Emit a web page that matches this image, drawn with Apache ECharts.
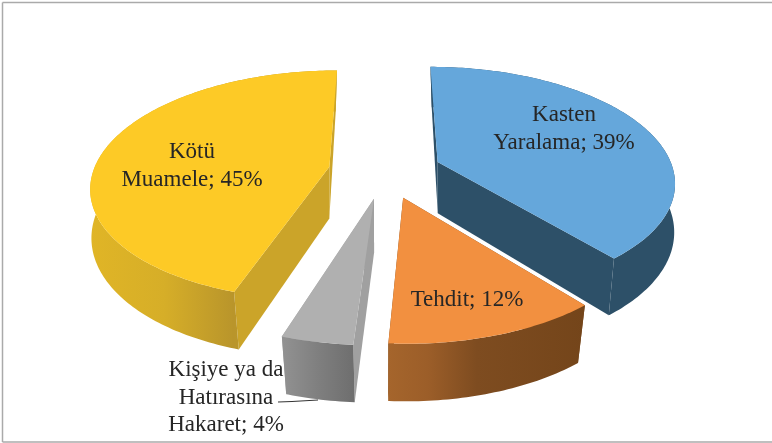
<!DOCTYPE html>
<html>
<head>
<meta charset="utf-8">
<style>
  html, body { margin: 0; padding: 0; background: #fff; }
  #main { width: 772px; height: 443px; }
</style>
<script src="https://cdn.jsdelivr.net/npm/echarts@6/dist/echarts.min.js"></script>
</head>
<body>
<div id="main"></div>
<script>
// chart values, clockwise from the top of the pie
var categories = ["Kasten Yaralama", "Tehdit", "Kişiye ya da Hatırasına Hakaret", "Kötü Muamele"];
var values = [39, 12, 4, 45];
var labelLines = [
  ["Kasten", "Yaralama; 39%"],
  ["Tehdit; 12%"],
  ["Kişiye ya da", "Hatırasına", "Hakaret; 4%"],
  ["Kötü", "Muamele; 45%"]
];

// look of each slice
var topColors = ["#65a7db", "#f29040", "#b0b0b0", "#fdca26"];
var cutColors = ["#2d5068", "#7a4a1e", "#a0a0a0", "#cba429"];
var wallColors = [
  [[0, "#2d5068"], [1, "#2d5068"]],
  [[0, "#a5652c"], [0.2, "#9c5e29"], [0.45, "#7e4c20"], [1, "#74451a"]],
  [[0, "#929292"], [0.5, "#7f7f7f"], [1, "#6e6e6e"]],
  [[0, "#e0b526"], [0.3, "#d6ae28"], [0.58, "#b9952b"], [1, "#cba429"]]
];
// text anchors (centre of the first line)
var labelSpots = [[564, 114.5], [467, 299.5], [226, 370], [192, 151.5]];
var lineGap = [28, 28, 27.5, 28];

// perspective of the disk, top face and bottom face
var view = { cx: 385, cy: 171, rx: 236, ry: 113, p: 0.16, cyLow: 223, rxLow: 236, ryLow: 122, pLow: 0.13, explode: 0.24 };

var total = values.reduce(function (a, b) { return a + b; }, 0);

function project(u, v, low) {
  var s = 1 / (1 - (low ? view.pLow : view.p) * v);
  return [
    view.cx + (low ? view.rxLow : view.rx) * u * s,
    (low ? view.cyLow : view.cy) + (low ? view.ryLow : view.ry) * v * s
  ];
}

function onDisk(deg, off) {
  var a = deg * Math.PI / 180;
  return [Math.sin(a) + off[0], -Math.cos(a) + off[1]];
}

function renderSlice(params, api) {
  var i = params.dataIndex;
  var before = 0;
  for (var k = 0; k < i; k++) before += values[k];
  var from = before / total * 360;
  var to = (before + api.value(0)) / total * 360;
  var mid = (from + to) / 2 * Math.PI / 180;
  var off = [view.explode * Math.sin(mid), -view.explode * Math.cos(mid)];

  var arcTop = [], arcLow = [];
  for (var d = from; d < to; d += 1) {
    var q = onDisk(d, off);
    arcTop.push(project(q[0], q[1], false));
    arcLow.push(project(q[0], q[1], true));
  }
  var e = onDisk(to, off);
  arcTop.push(project(e[0], e[1], false));
  arcLow.push(project(e[0], e[1], true));

  var apexTop = project(off[0], off[1], false);
  var apexLow = project(off[0], off[1], true);
  var last = arcTop.length - 1;

  var children = [
    { type: "polygon", shape: { points: [apexTop, arcTop[0], arcLow[0], apexLow] }, style: { fill: cutColors[i] } },
    { type: "polygon", shape: { points: [apexTop, arcTop[last], arcLow[last], apexLow] }, style: { fill: cutColors[i] } },
    {
      type: "polygon",
      shape: { points: arcTop.concat(arcLow.slice().reverse()) },
      style: {
        fill: new echarts.graphic.LinearGradient(0, 0, 1, 0, wallColors[i].map(function (s) {
          return { offset: s[0], color: s[1] };
        }))
      }
    },
    { type: "polygon", shape: { points: [apexTop].concat(arcTop) }, style: { fill: topColors[i] } }
  ];

  labelLines[i].forEach(function (txt, n) {
    children.push({
      type: "text",
      style: {
        text: txt,
        x: labelSpots[i][0],
        y: labelSpots[i][1] + n * lineGap[i],
        align: "center",
        verticalAlign: "middle",
        font: '23px "Liberation Serif"',
        fill: "#262626"
      }
    });
  });
  return { type: "group", children: children };
}

var myChart = echarts.init(document.getElementById("main"), null, { renderer: "canvas" });
var option = {
  backgroundColor: "#ffffff",
  animation: false,
  graphic: [
    { type: "line", shape: { x1: 2.5, y1: 2.5, x2: 772, y2: 2.5 }, style: { stroke: "#aaaaaa", lineWidth: 1.5 } },
    { type: "line", shape: { x1: 2.5, y1: 2.5, x2: 2.5, y2: 442 }, style: { stroke: "#aaaaaa", lineWidth: 1.5 } },
    { type: "line", shape: { x1: 2.5, y1: 442, x2: 772, y2: 442 }, style: { stroke: "#aaaaaa", lineWidth: 1.5 } },
    { type: "polyline", z: 10, shape: { points: [[278, 402], [292, 401.5], [318, 400]] }, style: { stroke: "#333333", lineWidth: 1, fill: null } }
  ],
  series: [{
    type: "custom",
    coordinateSystem: "none",
    name: "Pie",
    silent: true,
    renderItem: renderSlice,
    data: values.map(function (v, i) { return { name: categories[i], value: [v] }; })
  }]
};
myChart.setOption(option);
</script>
</body>
</html>
